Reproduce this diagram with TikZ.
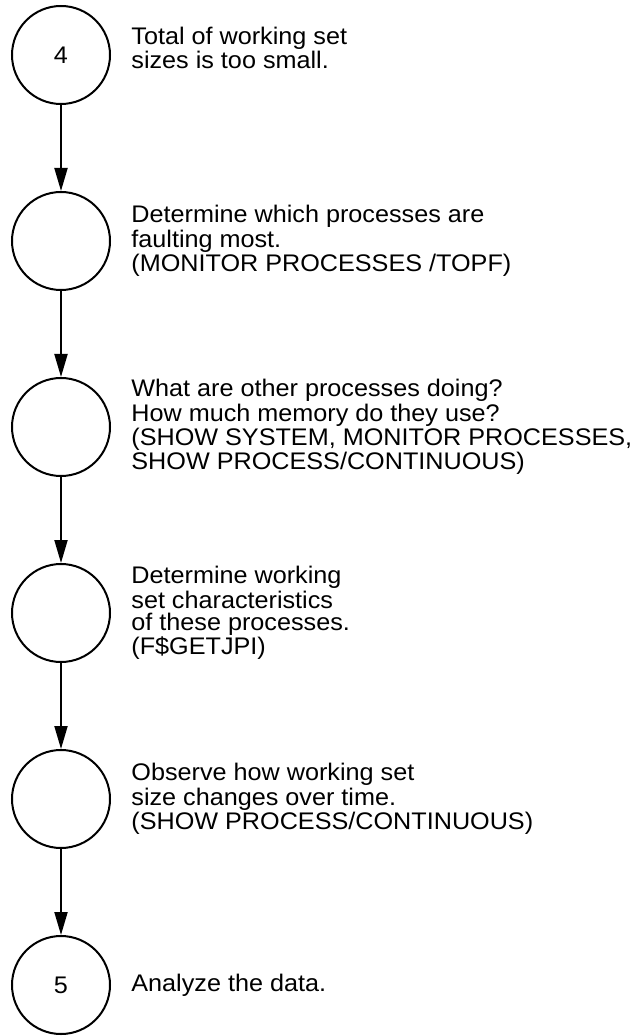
\documentclass[tikz,border=0pt]{standalone}
\usepackage{fontspec}
\setmainfont{Liberation Sans}[FakeStretch=1.05]
\usetikzlibrary{positioning,arrows.meta}

\begin{document}
\begin{tikzpicture}[
        stage/.style={circle,draw,line width=1pt,minimum size=49pt,inner sep=0pt,
            font=\fontsize{12}{11}\selectfont},
        note/.style={align=left,inner sep=0pt,font=\fontsize{12}{11}\selectfont},
        flow/.style={line width=1pt,-{Triangle[length=11.5pt,width=6.5pt]}},
        node distance=43pt and 10pt]
            \useasboundingbox (0,0) rectangle (318.5pt,-518pt);
            \node[stage] (c1) at (30.5pt,-27.5pt) {4};
            \node[stage,below=of c1] (c2) {};
            \node[stage,below=of c2] (c3) {};
            \node[stage,below=of c3] (c4) {};
            \node[stage,below=of c4] (c5) {};
            \node[stage,below=of c5] (c6) {5};
            \node[note,right=of c1,yshift=3.5pt] (t1) {Total of working set\\sizes is too small.};
            \node[note,right=of c2] (t2) {Determine which processes are\\faulting most.\\(MONITOR PROCESSES /TOPF)};
            \node[note,right=of c3] (t3) {What are other processes doing?\\How much memory do they use?\\(SHOW SYSTEM, MONITOR PROCESSES,\\SHOW PROCESS/CONTINUOUS)};
            \node[note,right=of c4] (t4) {Determine working\\set characteristics\\of these processes.\\(F\$GETJPI)};
            \node[note,right=of c5] (t5) {Observe how working set\\size changes over time.\\(SHOW PROCESS/CONTINUOUS)};
            \node[note,right=of c6] (t6) {Analyze the data.};
            \draw[flow] (c1) -- (c2);
            \draw[flow] (c2) -- (c3);
            \draw[flow] (c3) -- (c4);
            \draw[flow] (c4) -- (c5);
            \draw[flow] (c5) -- (c6);
        \end{tikzpicture}
\end{document}
